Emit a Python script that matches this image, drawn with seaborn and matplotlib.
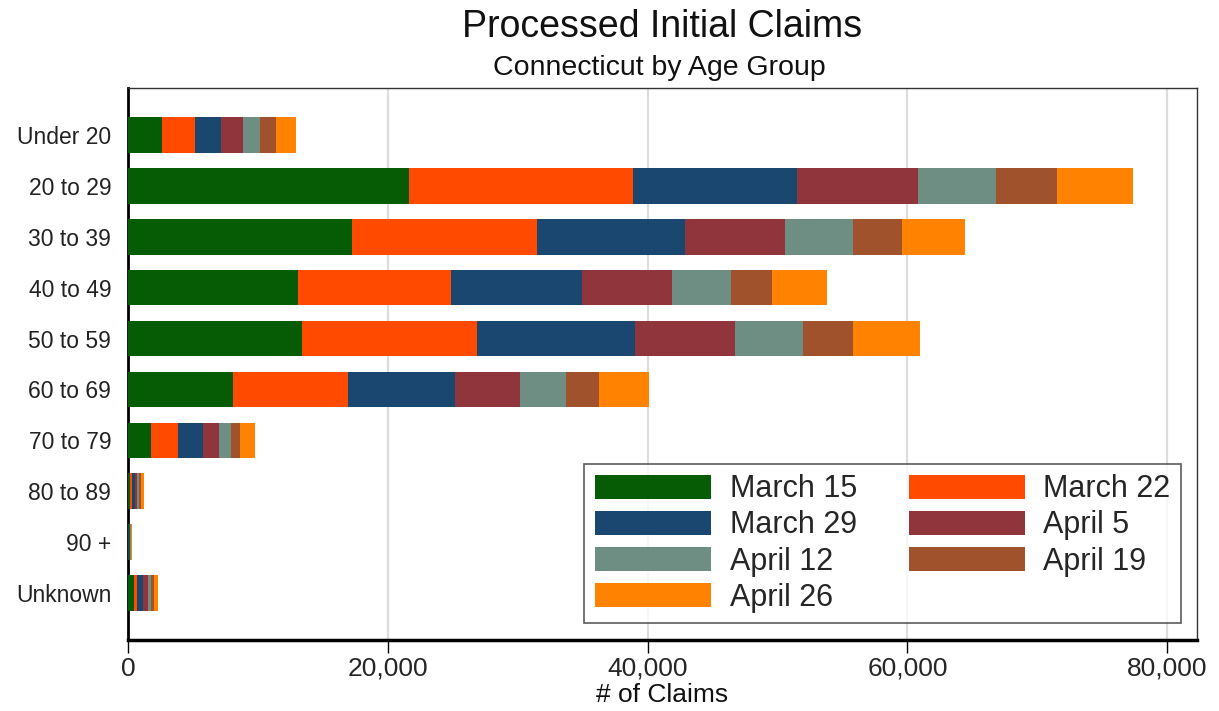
import numpy as np
import pandas as pd
import matplotlib
matplotlib.use("Agg")
import matplotlib.pyplot as plt
import seaborn as sns
from matplotlib.patches import Patch

# claims by age group, one list per week
age_groups = ["Under 20", "20 to 29", "30 to 39", "40 to 49", "50 to 59",
              "60 to 69", "70 to 79", "80 to 89", "90 +", "Unknown"]
weeks = ["March 15", "March 22", "March 29", "April 5",
         "April 12", "April 19", "April 26"]

march15 = [2590, 21640, 17250, 13050, 13380, 8080, 1770, 140, 40, 450]
march22 = [2560, 17230, 14250, 11800, 13520, 8820, 2100, 170, 40, 250]
march29 = [2000, 12610, 11350, 10120, 12100, 8250, 1870, 220, 50, 450]
april5 = [1720, 9340, 7750, 6930, 7700, 5000, 1280, 200, 40, 400]
april12 = [1330, 5980, 5200, 4500, 5300, 3600, 880, 150, 30, 250]
april19 = [1160, 4700, 3800, 3200, 3800, 2500, 720, 130, 30, 200]
april26 = [1540, 5900, 4800, 4200, 5200, 3850, 1150, 220, 70, 300]

colors = ["#055C05", "#FF4A00", "#1A476F", "#90353B",
          "#6E8E84", "#A0522D", "#FF8200"]

sns.set_theme(style="white")
plt.rcParams["font.family"] = ["Liberation Sans", "DejaVu Sans"]

df = pd.DataFrame({"age": age_groups, "March 15": march15, "March 22": march22,
                   "March 29": march29, "April 5": april5, "April 12": april12,
                   "April 19": april19, "April 26": april26})
cum = df[weeks].cumsum(axis=1)
cum["age"] = df["age"]

fig = plt.figure(figsize=(12.19, 7.11), dpi=100)
ax = fig.add_axes([0.105, 0.100, 0.877, 0.776])

# draw the running totals from largest to smallest so the bars stack
for wk, col in reversed(list(zip(weeks, colors))):
    sns.barplot(data=cum, x=wk, y="age", order=age_groups, color=col,
                width=0.7, orient="h", ax=ax, linewidth=0, saturation=1,
                zorder=3)

ax.set_xlim(0, 82300)
ax.set_ylim(9.92, -0.92)
ax.set_xticks([0, 20000, 40000, 60000, 80000])
ax.set_xticklabels(["0", "20,000", "40,000", "60,000", "80,000"], fontsize=19)
ax.tick_params(axis="x", direction="out", length=9, width=1, color="black",
               pad=3, bottom=True)
ax.tick_params(axis="y", length=0, labelsize=16.5, pad=12)
for t in ax.get_yticklabels():
    t.set_color("#222222")

for gx in [20000, 40000, 60000, 80000]:
    ax.axvline(gx, color="#DCDCDC", lw=1.6, zorder=1)

ax.set_xlabel("")
ax.set_ylabel("")
fig.text(0.543, 0.012, "# of Claims", ha="center", va="baseline",
         fontsize=19, color="#111111")

for side in ["top", "right"]:
    ax.spines[side].set_visible(True)
    ax.spines[side].set_color("#333333")
    ax.spines[side].set_linewidth(1.0)
ax.spines["left"].set_color("black")
ax.spines["left"].set_linewidth(2.0)
ax.spines["bottom"].set_color("black")
ax.spines["bottom"].set_linewidth(2.5)

# legend fills row by row in the reference
leg_order = [0, 2, 4, 6, 1, 3, 5]
handles = [Patch(facecolor=colors[i], edgecolor="none") for i in leg_order]
labels = [weeks[i] for i in leg_order]
leg = ax.legend(handles, labels, ncol=2, loc="lower right",
                bbox_to_anchor=(0.985, 0.03), fontsize=22, frameon=True,
                fancybox=False, edgecolor="#333333", handlelength=3.8,
                handleheight=0.85, handletextpad=0.6, columnspacing=1.7,
                labelspacing=0.2, borderpad=0.35, borderaxespad=0)
leg.get_frame().set_linewidth(1.2)
leg.set_zorder(5)

fig.text(0.543, 0.948, "Processed Initial Claims", ha="center",
         va="baseline", fontsize=27, color="#111111")
fig.text(0.541, 0.895, "Connecticut by Age Group", ha="center",
         va="baseline", fontsize=20.5, color="#111111")

fig.savefig("out.png", dpi=100)
